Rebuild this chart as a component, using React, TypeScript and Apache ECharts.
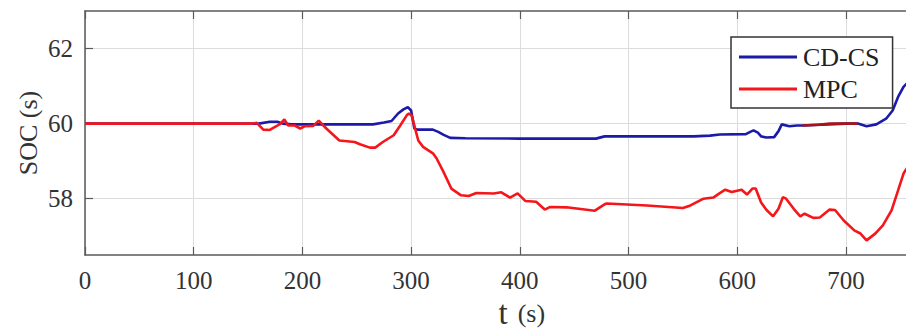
import React, { useEffect, useRef } from "react";
import * as echarts from "echarts";

const xTicks = [0, 100, 200, 300, 400, 500, 600, 700];
const yTicks = [58, 60, 62];

const cdcsT = [0, 153, 160, 170, 177, 182, 190, 265, 275, 282, 288, 293, 297, 300, 303, 306, 320, 325, 330, 336, 350, 400, 470, 478, 560, 575, 584, 608, 612, 615, 619, 622, 627, 634, 638, 641, 648, 655, 660, 700, 711, 719, 728, 737, 743, 748, 753, 757, 762];
const cdcsSoc = [60.0, 60.0, 60.0, 60.05, 60.05, 60.0, 59.98, 59.98, 60.03, 60.07, 60.27, 60.38, 60.44, 60.35, 59.87, 59.84, 59.84, 59.78, 59.7, 59.62, 59.61, 59.6, 59.6, 59.66, 59.66, 59.68, 59.71, 59.72, 59.78, 59.82, 59.76, 59.66, 59.63, 59.64, 59.8, 59.98, 59.93, 59.95, 59.95, 60.0, 60.0, 59.93, 59.98, 60.13, 60.35, 60.71, 60.98, 61.1, 61.2];

const overlapT = [660, 675, 685, 711];
const overlapSoc = [59.95, 59.97, 60.0, 60.0];

const mpcT = [0, 153, 158, 164, 170, 176, 180, 183.4, 187, 193, 198, 202, 210, 215, 222, 234, 241, 248, 253, 262, 267, 274, 284, 290, 296, 298, 300.5, 306.6, 311, 320.4, 323.5, 330, 337, 346, 353, 360, 376, 383, 391, 398, 405, 415, 423, 428, 443, 469, 478, 480, 517, 550, 557, 569, 578, 584, 589, 595, 604, 609, 614, 617, 622, 627, 633, 638, 642, 645, 652, 658, 662, 670, 676, 685, 690, 698, 708, 713, 719, 727, 734, 742, 748, 753, 757, 762];
const mpcSoc = [60, 60, 60.02, 59.84, 59.83, 59.93, 60.0, 60.11, 59.95, 59.95, 59.87, 59.93, 59.94, 60.08, 59.87, 59.55, 59.53, 59.51, 59.45, 59.36, 59.36, 59.51, 59.69, 59.95, 60.22, 60.27, 60.22, 59.55, 59.38, 59.2, 59.07, 58.7, 58.27, 58.09, 58.07, 58.15, 58.14, 58.17, 58.03, 58.14, 57.94, 57.92, 57.71, 57.78, 57.77, 57.68, 57.85, 57.87, 57.82, 57.75, 57.82, 58.0, 58.03, 58.15, 58.24, 58.18, 58.24, 58.11, 58.27, 58.27, 57.9, 57.7, 57.53, 57.73, 58.04, 58.0, 57.73, 57.53, 57.6, 57.49, 57.5, 57.71, 57.7, 57.42, 57.15, 57.08, 56.89, 57.07, 57.29, 57.69, 58.22, 58.67, 58.85, 59.0];

const xName = "t";
const xUnit = "(s)";
const yName = "SOC (s)";

const zip = (t: number[], v: number[]) => t.map((x, i) => [x, v[i]]);

const FONT = "'Liberation Serif', 'Times New Roman', serif";
const FRAME = "#5a5a5a";
const TXT = "#333";

export default function App() {
  const ref = useRef<HTMLDivElement>(null);
  useEffect(() => {
    if (!ref.current) return;
    const chart = echarts.init(ref.current, undefined, { renderer: "svg" });
    const xCommon = {
      type: "value" as const,
      min: 0,
      max: 800,
      interval: 100,
    };
    chart.setOption({
      animation: false,
      backgroundColor: "#ffffff",
      textStyle: { fontFamily: FONT },
      grid: { left: 85, top: 11, bottom: 76, right: 45.4, containLabel: false },
      legend: {
        data: ["CD-CS", "MPC"],
        orient: "vertical",
        left: 731,
        top: 37,
        padding: [7, 13, 6, 8],
        itemGap: 6,
        itemWidth: 58,
        itemHeight: 3,
        icon: "rect",
        borderColor: "#333",
        borderWidth: 1.5,
        borderRadius: 0,
        backgroundColor: "#fff",
        textStyle: { fontFamily: FONT, fontSize: 26, color: "#222", lineHeight: 26, padding: [0, 0, 0, 1] },
      },
      xAxis: [
        {
          ...xCommon,
          position: "bottom",
          axisLine: { show: true, lineStyle: { color: FRAME, width: 1.5 } },
          axisTick: { show: true, inside: true, length: 8, lineStyle: { color: FRAME, width: 1.2 } },
          axisLabel: { show: false },
          splitLine: { show: true, lineStyle: { color: "#dcdcdc", width: 1 } },
        },
        {
          ...xCommon,
          position: "top",
          axisLine: { show: true, lineStyle: { color: FRAME, width: 1.5 } },
          axisTick: { show: true, inside: true, length: 8, lineStyle: { color: FRAME, width: 1.2 } },
          axisLabel: { show: false },
          splitLine: { show: false },
        },
      ],
      yAxis: [
        {
          type: "value",
          min: 56.5,
          max: 63,
          position: "left",
          axisLine: { show: true, lineStyle: { color: FRAME, width: 1.5 } },
          axisTick: { show: true, inside: true, length: 8, customValues: yTicks, lineStyle: { color: FRAME, width: 1.2 } },
          axisLabel: { show: false, customValues: yTicks },
          splitLine: { show: true, lineStyle: { color: "#dcdcdc", width: 1 } },
        },
      ],
      series: [
        {
          name: "CD-CS",
          type: "line",
          data: zip(cdcsT, cdcsSoc),
          showSymbol: false,
          symbol: "none",
          color: "#1b1ba8",
          lineStyle: { color: "#1b1ba8", width: 2.6 },
          z: 2,
        },
        {
          name: "overlap",
          type: "line",
          data: zip(overlapT, overlapSoc),
          showSymbol: false,
          symbol: "none",
          color: "#a8141e",
          lineStyle: { color: "#a8141e", width: 2.6 },
          z: 3,
        },
        {
          name: "MPC",
          type: "line",
          data: zip(mpcT, mpcSoc),
          showSymbol: false,
          symbol: "none",
          color: "#f5161b",
          lineStyle: { color: "#f5161b", width: 2.6 },
          z: 4,
        },
      ],
    });

    const bottomY = chart.convertToPixel({ yAxisIndex: 0 }, 56.5) as number;
    const topY = chart.convertToPixel({ yAxisIndex: 0 }, 63) as number;
    const leftX = chart.convertToPixel({ xAxisIndex: 0 }, 0) as number;
    const x400 = chart.convertToPixel({ xAxisIndex: 0 }, 400) as number;

    const labels: any[] = [];
    xTicks.forEach((v) => {
      labels.push({
        type: "text",
        x: chart.convertToPixel({ xAxisIndex: 0 }, v) as number,
        y: bottomY + 25,
        style: { text: String(v), fontFamily: FONT, fontSize: 25, fill: TXT, align: "center", verticalAlign: "middle" },
        silent: true,
      });
    });
    yTicks.forEach((v) => {
      labels.push({
        type: "text",
        x: leftX - 12,
        y: chart.convertToPixel({ yAxisIndex: 0 }, v) as number,
        style: { text: String(v), fontFamily: FONT, fontSize: 25, fill: TXT, align: "right", verticalAlign: "middle" },
        silent: true,
      });
    });
    labels.push({
      type: "text",
      x: leftX - 57,
      y: (bottomY + topY) / 2,
      rotation: Math.PI / 2,
      style: { text: yName, fontFamily: FONT, fontSize: 26, fill: TXT, align: "center", verticalAlign: "middle" },
      silent: true,
    });
    labels.push({
      type: "text",
      x: x400 + 2,
      y: bottomY + 58,
      style: {
        text: "{t|" + xName + "}{s|" + xUnit + "}",
        fontFamily: FONT,
        align: "center",
        verticalAlign: "middle",
        rich: {
          t: { fontFamily: FONT, fontSize: 33, fill: TXT },
          s: { fontFamily: FONT, fontSize: 26, fill: TXT, padding: [0, 0, 0, 10] },
        },
      },
      silent: true,
    });
    chart.setOption({ graphic: labels });

    return () => chart.dispose();
  }, []);
  return (
    <div style={{ position: "fixed", left: 0, top: 0, width: 906, height: 331, overflow: "hidden", background: "#fff" }}>
      <div ref={ref} style={{ width: 1000, height: 331 }} />
    </div>
  );
}
